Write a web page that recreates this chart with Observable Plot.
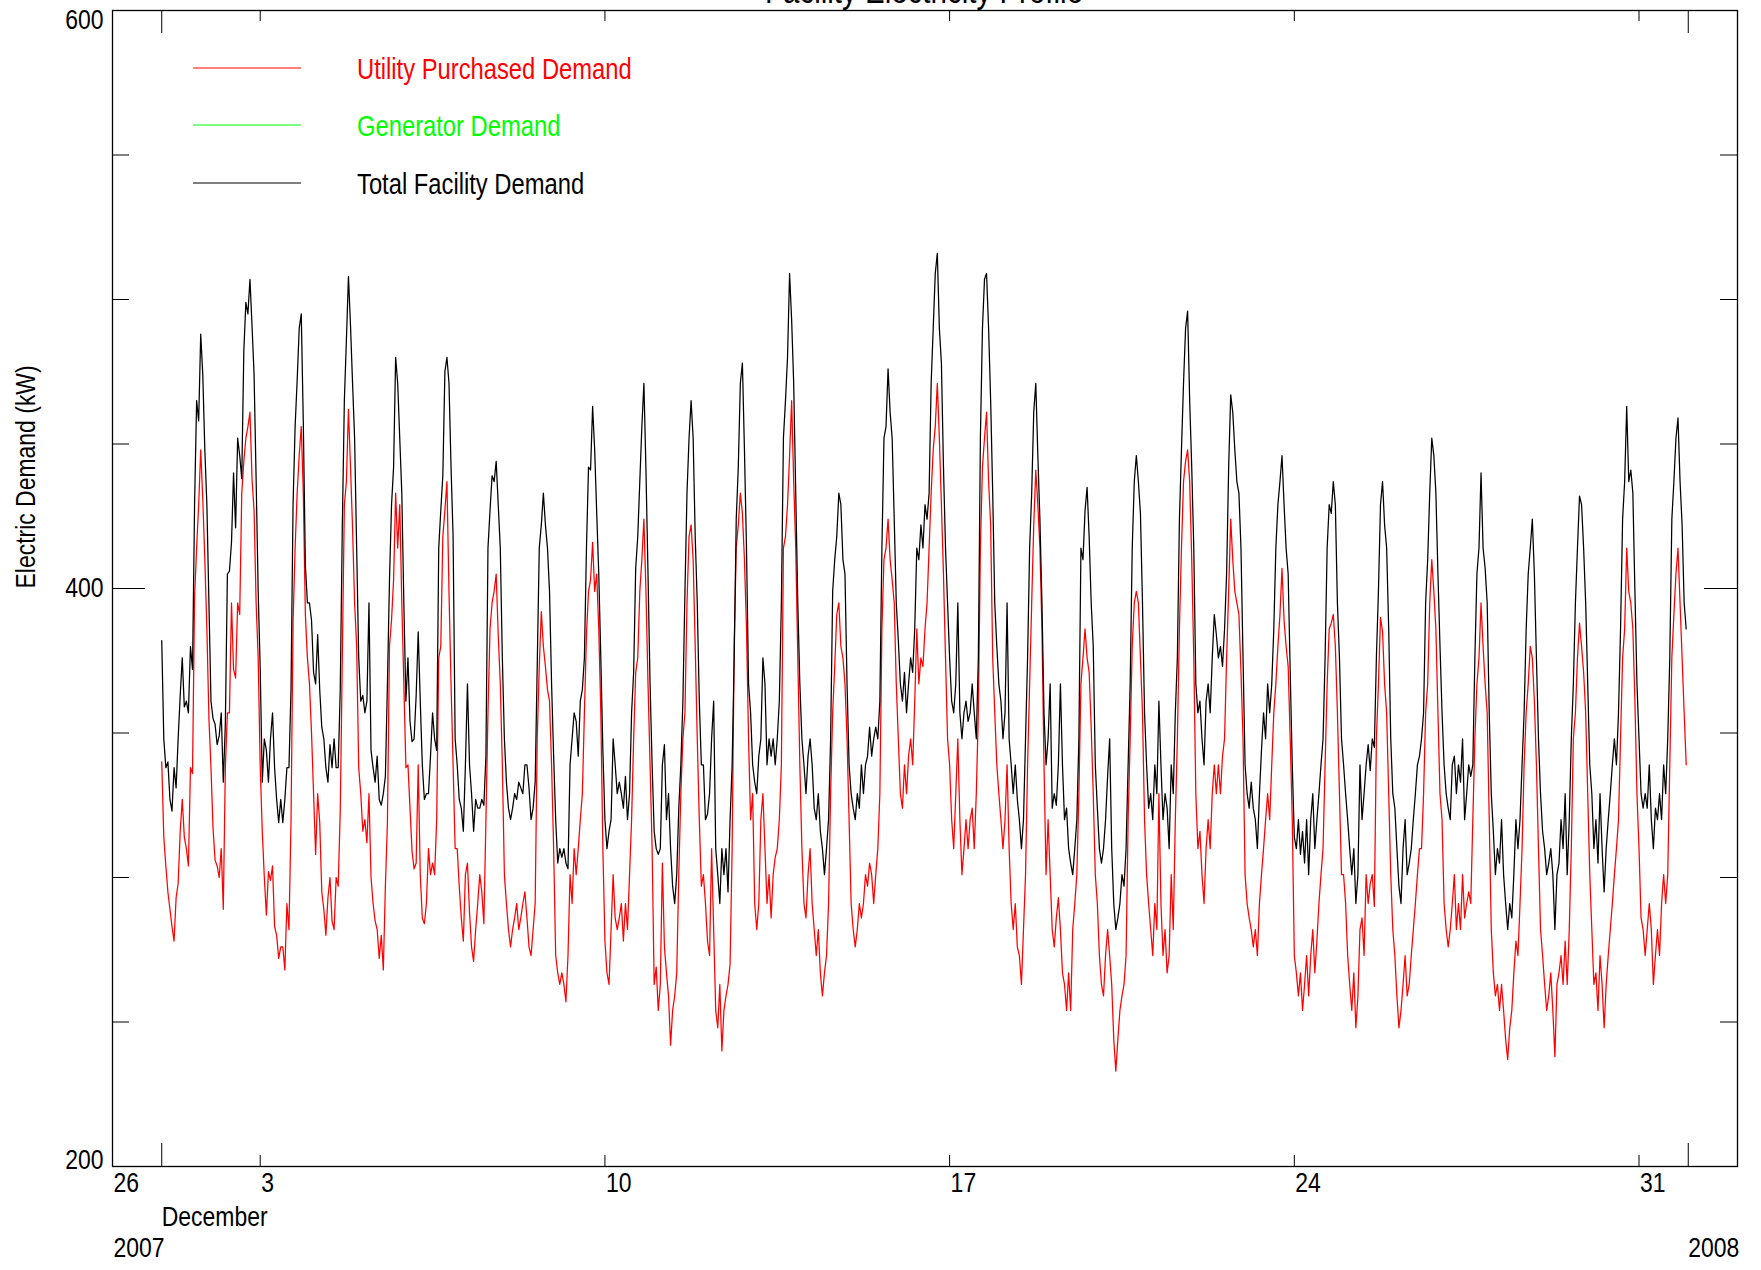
<!DOCTYPE html>
<html>
<head>
<meta charset="utf-8">
<script src="https://cdn.jsdelivr.net/npm/d3@7"></script>
<script src="https://cdn.jsdelivr.net/npm/@observablehq/plot@0.6"></script>
<style>
  html, body { margin: 0; padding: 0; background: #fff; }
  #chart { position: relative; width: 1761px; height: 1270px; overflow: hidden; }
  #chart svg { display: block; }
</style>
</head>
<body>
<div id="chart"></div>
<script>
// ---------- data ----------
const chartTitle = "Facility Electricity Profile";
const yAxisLabel = "Electric Demand (kW)";
const seriesNames = ["Utility Purchased Demand", "Generator Demand", "Total Facility Demand"];
const seriesColors = ["#ff0000", "#00ff00", "#000000"];
const startTime = "2007-12-01T00:00:00Z";   // hourly samples, Dec 1 00:00 .. Dec 31 23:00
const xDomain = ["2007-11-30", "2008-01-02"];
const weekTicks = ["2007-12-03", "2007-12-10", "2007-12-17", "2007-12-24", "2007-12-31"];
const monthTicks = ["2007-12-01", "2008-01-01"];
const firstWeekLabel = "26";
const monthLabel = "December";
const yearLabels = ["2007", "2008"];
const yMajorTicks = [200, 400, 600];
const yMinorTicks = [250, 300, 350, 450, 500, 550];

// Total Facility Demand (kW), one row per day (24 hourly values)
const totalDemand = [
  382,348,338,340,327,323,338,331,348,363,376,359,361,357,380,372,429,465,458,488,474,448,429,395, // Dec 1
  361,355,353,346,349,357,333,353,405,406,416,440,421,452,446,438,482,499,495,507,491,474,438,399, // Dec 2
  372,333,348,344,333,348,357,338,327,319,327,319,327,338,338,365,429,456,472,490,495,457,408,395, // Dec 3
  395,389,371,367,384,365,352,348,338,333,346,338,348,338,338,365,421,465,486,508,491,471,452,414, // Dec 4
  376,361,363,357,361,395,344,338,333,342,327,325,329,335,367,403,429,442,480,471,452,433,395,361, // Dec 5
  376,354,347,348,363,385,361,339,327,329,329,342,357,348,344,414,427,439,475,480,471,442,418,348, // Dec 6
  339,327,324,316,339,367,339,329,316,327,324,324,327,325,342,414,427,439,437,444,429,414,376,348, // Dec 7
  333,324,320,324,329,327,333,331,329,339,339,331,320,324,333,373,414,422,433,422,414,399,367,342, // Dec 8
  320,305,310,307,310,305,303,339,348,357,354,342,361,365,376,414,442,441,463,448,426,405,376,344, // Dec 9
  320,310,316,320,348,339,329,333,329,324,335,320,329,357,371,407,418,437,456,471,441,405,367,339, // Dec 10
  316,310,308,310,339,346,320,329,310,297,291,301,324,339,361,399,433,452,465,452,418,395,361,339, // Dec 11
  339,320,322,329,348,361,310,301,291,310,301,310,295,320,339,376,424,442,471,478,448,414,367,357, // Dec 12
  339,333,329,342,348,376,367,339,348,342,348,339,348,361,395,452,465,480,509,493,471,433,395,367, // Dec 13
  348,339,329,342,348,339,324,320,329,316,310,301,310,320,348,399,410,418,433,429,410,405,367,339, // Dec 14
  329,324,320,329,324,339,329,339,342,352,342,348,352,348,361,414,452,456,476,461,452,424,395,382, // Dec 15
  367,361,371,357,367,376,371,386,414,410,422,414,429,424,433,471,490,509,516,490,478,442,414,395, // Dec 16
  376,361,357,367,395,357,348,357,361,354,357,367,357,348,376,452,490,507,509,490,465,433,395,380, // Dec 17
  367,361,348,357,395,348,339,329,339,327,320,310,320,348,376,414,433,461,471,446,424,395,357,339, // Dec 18
  348,367,324,329,325,339,367,339,320,324,310,305,301,310,320,348,414,410,427,435,418,395,380,339, // Dec 19
  324,310,305,310,320,335,348,310,291,282,286,291,301,297,310,339,367,414,437,446,437,426,395,357, // Dec 20
  339,324,329,320,339,329,361,339,320,329,324,310,339,329,357,376,424,448,471,490,496,465,442,414, // Dec 21
  367,357,361,348,339,361,367,357,376,391,384,376,380,373,386,405,442,467,461,448,437,433,414,376, // Dec 22
  339,329,324,333,324,320,310,329,344,357,348,367,357,367,386,414,429,437,446,429,414,405,371,339, // Dec 23
  314,310,320,308,316,305,320,301,320,329,310,320,329,339,348,376,414,429,426,437,429,395,376,348, // Dec 24
  339,329,320,310,301,310,291,301,339,320,329,339,346,337,348,345,376,399,429,437,422,414,386,348, // Dec 25
  329,324,310,297,291,310,320,301,305,310,320,329,339,342,348,357,395,410,433,452,446,433,405,380, // Dec 26
  357,339,329,324,320,339,342,329,339,333,348,320,329,339,335,339,376,405,414,440,414,407,395,357, // Dec 27
  329,316,301,310,305,320,301,291,282,291,286,301,320,310,320,339,357,386,405,414,424,405,376,348, // Dec 28
  329,316,310,301,305,310,301,282,301,305,320,310,329,301,320,348,367,395,414,432,429,414,395,367, // Dec 29
  339,329,310,320,305,329,310,295,310,320,329,339,348,339,357,386,424,437,463,437,441,433,399,367, // Dec 30
  348,329,324,329,324,339,320,310,324,320,329,320,339,329,348,376,424,437,452,459,437,422,395,386  // Dec 31
];

// Utility Purchased Demand (kW), one row per day (24 hourly values)
const utilityDemand = [
  340,314,304,295,289,283,278,293,298,316,327,314,310,304,338,336,397,414,429,448,431,410,386,355, // Dec 1
  338,317,306,304,300,310,289,338,357,357,395,372,369,395,391,433,444,452,456,461,438,427,395,376, // Dec 2
  338,316,300,287,302,299,304,283,280,272,276,276,268,291,282,319,388,414,433,446,456,433,391,376, // Dec 3
  367,350,329,308,329,319,295,289,280,293,300,285,282,300,297,323,376,429,437,462,442,421,395,380, // Dec 4
  338,329,316,320,312,329,300,291,285,282,272,280,268,297,319,380,389,403,433,414,429,395,367,338, // Dec 5
  339,324,309,303,305,339,301,286,284,291,310,301,305,301,320,376,380,418,427,437,399,367,339,310, // Dec 6
  310,297,286,278,301,305,288,276,271,282,291,301,295,284,320,357,386,395,399,405,384,367,339,301, // Dec 7
  291,282,276,282,286,291,282,286,291,295,286,276,273,282,291,348,373,392,380,373,365,361,339,310, // Dec 8
  273,267,263,267,263,257,273,301,291,310,301,310,320,329,357,384,399,403,416,399,405,386,357,310, // Dec 9
  278,267,263,282,301,286,282,286,291,278,291,282,301,320,348,371,376,399,410,424,399,367,339,310, // Dec 10
  263,269,254,263,305,276,267,259,242,254,259,267,301,329,348,357,395,418,422,410,380,348,320,297, // Dec 11
  301,291,278,273,310,282,254,248,263,240,254,259,263,270,310,380,414,422,433,426,410,386,348,320, // Dec 12
  329,291,282,291,320,329,310,291,301,286,301,307,310,320,339,414,418,429,446,465,437,414,376,339, // Dec 13
  310,291,286,301,310,291,282,273,282,267,259,267,273,291,329,357,373,391,395,380,376,367,348,320, // Dec 14
  291,282,276,282,291,286,291,301,297,305,301,291,301,310,329,386,410,414,424,410,403,395,367,348, // Dec 15
  329,324,339,329,342,348,339,361,386,367,376,373,386,395,414,433,448,456,471,452,429,405,376,348, // Dec 16
  339,320,310,329,348,320,301,310,320,310,320,324,310,329,357,414,442,452,461,437,422,376,357,339, // Dec 17
  329,320,310,320,339,310,291,282,291,276,273,263,282,301,339,367,395,422,441,429,414,386,339,301, // Dec 18
  320,301,282,276,286,293,282,267,263,254,267,254,282,291,301,329,367,376,386,376,371,352,329,301, // Dec 19
  291,273,263,259,273,282,273,263,244,233,244,254,259,263,273,320,348,380,395,399,395,376,357,320, // Dec 20
  301,291,282,273,291,282,329,291,273,282,267,273,301,282,320,348,386,414,437,444,448,437,410,376, // Dec 21
  329,310,316,301,291,310,320,310,329,339,329,339,329,342,348,376,399,424,410,399,395,391,371,348, // Dec 22
  301,291,286,282,276,282,273,291,301,310,320,329,320,339,357,367,380,391,407,389,380,373,348,320, // Dec 23
  273,267,259,267,254,263,273,259,273,282,267,278,291,301,310,339,367,386,388,391,380,357,329,301, // Dec 24
  301,291,273,263,254,267,248,259,282,286,273,301,291,298,301,290,348,367,390,385,367,357,329,301, // Dec 25
  282,273,259,248,254,263,273,259,263,273,282,291,301,310,310,329,357,367,395,410,399,386,357,329, // Dec 26
  320,291,282,276,282,291,301,282,291,282,301,286,291,295,291,320,348,367,376,395,380,367,357,320, // Dec 27
  282,267,259,263,254,263,254,244,237,248,254,267,278,273,291,310,339,357,367,380,376,361,339,310, // Dec 28
  282,273,263,254,259,267,254,238,263,267,273,263,278,263,282,310,348,357,376,388,380,371,357,329, // Dec 29
  301,282,263,267,254,273,263,248,263,273,282,291,301,310,320,348,376,386,414,399,395,386,361,329, // Dec 30
  310,286,282,273,282,291,282,263,273,282,273,291,301,291,301,339,376,391,405,414,395,376,357,339  // Dec 31
];

// ---------- build ----------
const utc = s => new Date(s.length === 10 ? s + "T00:00:00Z" : s);
const t0 = utc(startTime).getTime();
const rows = totalDemand.map((v, i) => ({
  t: new Date(t0 + i * 3600000),
  total: v,
  utility: utilityDemand[i]
}));

const W = 1761, H = 1270;
const mL = 112, mR = 24, mT = 10, mB = 104;
const pw = W - mL - mR, ph = H - mT - mB;
const FONT = "'Liberation Sans', Arial, sans-serif";
const NARROW = 0.82;   // horizontal squeeze to mimic a narrow face
const FS = 28;

const weekDates = weekTicks.map(utc);
const monthDates = monthTicks.map(utc);

const plot = Plot.plot({
  width: W, height: H,
  marginLeft: mL, marginRight: mR, marginTop: mT, marginBottom: mB,
  x: { type: "utc", domain: xDomain.map(utc), axis: null },
  y: { domain: [200, 600], axis: null },
  style: { fontFamily: FONT, fontSize: FS + "px", color: "#000", background: "#fff" },
  marks: [
    Plot.lineY(rows, { x: "t", y: "utility", stroke: seriesColors[0], strokeWidth: 1.25, clip: true }),
    Plot.lineY(rows, { x: "t", y: "total", stroke: seriesColors[2], strokeWidth: 1.25, clip: true }),
    Plot.frame({ stroke: "#000", strokeWidth: 1.3 }),
    // y ticks, inward on both sides
    Plot.ruleY(yMajorTicks, { y: d => d, insetRight: pw - 33, stroke: "#000" }),
    Plot.ruleY(yMinorTicks, { y: d => d, insetRight: pw - 17, stroke: "#000" }),
    Plot.ruleY(yMajorTicks, { y: d => d, insetLeft: pw - 33, stroke: "#000" }),
    Plot.ruleY(yMinorTicks, { y: d => d, insetLeft: pw - 17, stroke: "#000" }),
    // x ticks, inward on top and bottom
    Plot.ruleX(weekDates, { x: d => d, insetBottom: ph - 11, stroke: "#000" }),
    Plot.ruleX(weekDates, { x: d => d, insetTop: ph - 11, stroke: "#000" }),
    Plot.ruleX(monthDates, { x: d => d, insetBottom: ph - 23, stroke: "#000" }),
    Plot.ruleX(monthDates, { x: d => d, insetTop: ph - 23, stroke: "#000" }),
    // y tick labels
    Plot.text([600], { y: d => d, text: d => String(d), frameAnchor: "left", textAnchor: "end", dx: -9, dy: 10, fontSize: FS }),
    Plot.text([400], { y: d => d, text: d => String(d), frameAnchor: "left", textAnchor: "end", dx: -9, fontSize: FS }),
    Plot.text([200], { y: d => d, text: d => String(d), frameAnchor: "left", textAnchor: "end", dx: -9, dy: -6, fontSize: FS }),
    // y axis title
    Plot.text([yAxisLabel], { text: d => d, frameAnchor: "left", rotate: -90, dx: -86, fontSize: FS }),
    // x tick labels
    Plot.text(weekDates, { x: d => d, text: d => String(d.getUTCDate()), frameAnchor: "bottom", textAnchor: "start", dx: 1, dy: 25, fontSize: FS }),
    Plot.text([firstWeekLabel], { text: d => d, frameAnchor: "bottom-left", textAnchor: "start", dx: 1, dy: 25, fontSize: FS }),
    Plot.text([monthDates[0]], { x: d => d, text: () => monthLabel, frameAnchor: "bottom", textAnchor: "start", dx: 0, dy: 59, fontSize: FS }),
    Plot.text([yearLabels[0]], { text: d => d, frameAnchor: "bottom-left", textAnchor: "start", dx: 1, dy: 90, fontSize: FS }),
    Plot.text([monthDates[1]], { x: d => d, text: () => yearLabels[1], frameAnchor: "bottom", textAnchor: "start", dx: 0, dy: 90, fontSize: FS })
  ]
});

document.getElementById("chart").appendChild(plot);

// squeeze every Plot text horizontally (narrow face look)
d3.select(plot).selectAll("text").each(function () {
  const el = d3.select(this);
  const tr = el.attr("transform");
  if (tr) {
    el.attr("transform", tr + ` scale(${NARROW},1)`);
  } else {
    const x = +(el.attr("x") || 0), y = +(el.attr("y") || 0);
    el.attr("x", null).attr("y", null)
      .attr("transform", `translate(${x},${y}) scale(${NARROW},1)`);
  }
});

// title (cut off by the top edge, as in the original) and legend
const svg = d3.select(plot);
svg.append("text")
  .attr("transform", `translate(924,3) scale(${NARROW},1)`)
  .attr("text-anchor", "middle")
  .attr("font-family", FONT).attr("font-size", 36).attr("fill", "#000")
  .text(chartTitle);

const legendY = [68, 125, 183];
const lg = svg.append("g");
seriesNames.forEach((name, i) => {
  lg.append("line")
    .attr("x1", 193).attr("x2", 301)
    .attr("y1", legendY[i]).attr("y2", legendY[i])
    .attr("stroke", seriesColors[i]).attr("stroke-width", 1.1);
  lg.append("text")
    .attr("transform", `translate(357,${legendY[i] + 10.5}) scale(${NARROW},1)`)
    .attr("text-anchor", "start")
    .attr("font-family", FONT).attr("font-size", 29)
    .attr("fill", seriesColors[i])
    .text(name);
});
</script>
</body>
</html>
